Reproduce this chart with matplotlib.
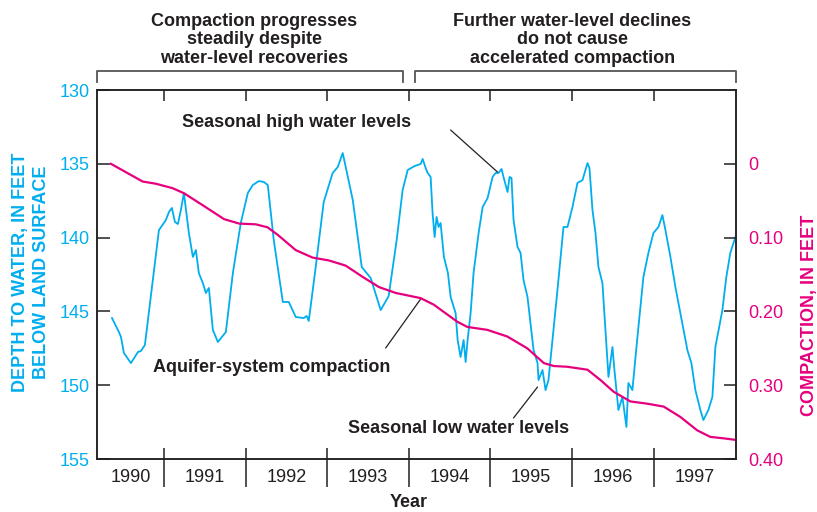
import matplotlib
matplotlib.use("Agg")
import matplotlib.pyplot as plt
from matplotlib.transforms import blended_transform_factory

plt.rcParams['font.family'] = ['Liberation Sans', 'DejaVu Sans']

# ---------------- data ----------------
wl_year = [1990.364, 1990.449, 1990.474, 1990.510, 1990.596, 1990.682, 1990.718, 1990.767,
           1990.939, 1991.024, 1991.061, 1991.098, 1991.135, 1991.171, 1991.208, 1991.245,
           1991.282, 1991.306, 1991.355, 1991.392, 1991.428, 1991.477, 1991.514, 1991.551,
           1991.600, 1991.661, 1991.759, 1991.845, 1991.942, 1992.028, 1992.089, 1992.163,
           1992.224, 1992.273, 1992.346, 1992.457, 1992.530, 1992.616, 1992.714, 1992.750,
           1992.775, 1992.860, 1992.958, 1993.068, 1993.130, 1993.191, 1993.314, 1993.424,
           1993.534, 1993.656, 1993.754, 1993.852, 1993.925, 1993.987, 1994.072, 1994.146,
           1994.170, 1994.207, 1994.231, 1994.268, 1994.292, 1994.317, 1994.341, 1994.366,
           1994.390, 1994.431, 1994.480, 1994.513, 1994.574, 1994.599, 1994.635, 1994.672,
           1994.697, 1994.721, 1994.758, 1994.794, 1994.856, 1994.905, 1994.966, 1995.027,
           1995.064, 1995.100, 1995.137, 1995.161, 1995.210, 1995.235, 1995.259, 1995.284,
           1995.333, 1995.370, 1995.406, 1995.455, 1995.492, 1995.529, 1995.578, 1995.590,
           1995.639, 1995.676, 1995.712, 1995.749, 1995.822, 1995.896, 1995.945, 1996.006,
           1996.067, 1996.129, 1996.190, 1996.214, 1996.251, 1996.288, 1996.324, 1996.373,
           1996.410, 1996.447, 1996.496, 1996.520, 1996.569, 1996.618, 1996.667, 1996.691,
           1996.740, 1996.802, 1996.875, 1996.936, 1996.998, 1997.059, 1997.108, 1997.145,
           1997.206, 1997.267, 1997.328, 1997.414, 1997.463, 1997.512, 1997.573, 1997.610,
           1997.671, 1997.720, 1997.757, 1997.843, 1997.891, 1997.940, 1998.002]
wl_depth = [145.45, 146.40, 146.73, 147.82, 148.50, 147.75, 147.68, 147.28,
            139.49, 138.81, 138.27, 137.99, 138.94, 139.08, 138.13, 136.98,
            138.60, 139.69, 141.31, 140.84, 142.40, 143.08, 143.75, 143.41,
            146.26, 147.07, 146.40, 142.40, 139.01, 136.98, 136.44, 136.17,
            136.23, 136.44, 140.16, 144.36, 144.36, 145.38, 145.45, 145.31,
            145.65, 141.99, 137.59, 135.62, 135.22, 134.27, 137.45, 141.99,
            142.74, 144.91, 143.96, 140.16, 136.78, 135.42, 135.15, 135.01,
            134.67, 135.28, 135.62, 135.89, 138.33, 139.96, 138.60, 139.28,
            139.01, 141.31, 142.40, 144.02, 145.11, 146.94, 148.09, 146.94,
            148.43, 146.94, 145.11, 142.40, 139.69, 137.93, 137.32, 135.89,
            135.62, 135.62, 135.35, 135.89, 136.91, 135.89, 135.96, 138.81,
            140.64, 141.04, 142.87, 144.02, 145.79, 147.62, 148.50, 149.65,
            148.97, 150.33, 149.65, 147.62, 143.55, 139.28, 139.28, 137.93,
            136.30, 136.10, 134.95, 135.28, 138.13, 139.69, 141.99, 143.08,
            146.26, 149.44, 147.41, 148.97, 151.68, 150.80, 152.83, 149.85,
            150.33, 146.73, 142.67, 141.04, 139.69, 139.28, 138.47, 139.49,
            141.31, 143.35, 145.11, 147.62, 148.50, 150.33, 151.68, 152.36,
            151.68, 150.80, 147.41, 144.91, 142.67, 141.04, 139.96]

cp_year = [1990.351, 1990.739, 1990.902, 1991.106, 1991.248, 1991.474, 1991.738, 1991.922,
           1992.126, 1992.269, 1992.392, 1992.616, 1992.820, 1993.023, 1993.228, 1993.432,
           1993.635, 1993.840, 1994.146, 1994.308, 1994.595, 1994.717, 1994.962, 1995.207,
           1995.452, 1995.655, 1995.777, 1995.941, 1996.190, 1996.349, 1996.512, 1996.716,
           1996.920, 1997.124, 1997.328, 1997.532, 1997.694, 1997.858, 1998.000]
compaction = [0.000, 0.024, 0.027, 0.033, 0.040, 0.056, 0.075, 0.081,
              0.082, 0.086, 0.096, 0.117, 0.127, 0.131, 0.138, 0.153,
              0.167, 0.175, 0.182, 0.191, 0.214, 0.221, 0.225, 0.234,
              0.250, 0.270, 0.274, 0.275, 0.279, 0.293, 0.309, 0.322,
              0.325, 0.329, 0.343, 0.361, 0.370, 0.372, 0.374]

year_starts = [1990, 1991, 1992, 1993, 1994, 1995, 1996, 1997]
year_labels = ['1990', '1991', '1992', '1993', '1994', '1995', '1996', '1997']
depth_ticks = [130, 135, 140, 145, 150, 155]
comp_ticks = [0, 0.10, 0.20, 0.30, 0.40]
comp_tick_labels = ['0', '0.10', '0.20', '0.30', '0.40']
phase_split = 1994.0
x_min, x_max = 1990.18, 1998.01

# ---------------- style ----------------
CYAN = '#00aeef'
MAGENTA = '#e6007e'
DARK = '#231f20'

fig = plt.figure(figsize=(8.17, 5.12), dpi=100)
ax = fig.add_axes([0.1187, 0.1035, 0.7822, 0.7207])
ax2 = ax.twinx()

ax.plot(wl_year, wl_depth, color=CYAN, lw=1.3, zorder=3)
ax2.plot(cp_year, compaction, color=MAGENTA, lw=1.6)

ax.set_xlim(x_min, x_max)
ax.set_ylim(155, 130)
ax2.set_ylim(0.40, -0.10)

for a in (ax, ax2):
    for s in a.spines.values():
        s.set_color(DARK)
        s.set_linewidth(1.1)

# x ticks: inner major ticks top & bottom, outer separators bottom (minor)
ax.set_xticks(year_starts[1:])
ax.set_xticks(year_starts[1:], minor=True)
ax.xaxis.remove_overlapping_locs = False
ax.tick_params(axis='x', which='major', direction='in', length=8, width=1.1,
               color=DARK, top=True, bottom=True, labelbottom=False)
ax.tick_params(axis='x', which='minor', direction='out', length=20, width=1.1,
               color=DARK, top=False, bottom=True, labelbottom=False)

# year labels centred on the visible part of each year
label_pos = [(max(y, x_min) + min(y + 1, x_max)) / 2 for y in year_starts]
sec = ax.secondary_xaxis('bottom')
sec.set_xticks(label_pos, year_labels)
sec.tick_params(axis='x', length=0, pad=7, labelsize=13, labelcolor=DARK)
sec.spines['bottom'].set_visible(False)

# y ticks
ax.set_yticks(depth_ticks)
ax.tick_params(axis='y', direction='in', length=9, width=1.1, color=DARK,
               labelcolor=CYAN, labelsize=13, pad=5)
ax2.set_yticks(comp_ticks, comp_tick_labels)
ax2.tick_params(axis='y', direction='in', length=9, width=1.1, color=DARK,
                labelcolor=MAGENTA, labelsize=13, pad=9)

# axis titles
fig.text(0.0375, 0.469, 'DEPTH TO WATER, IN FEET\nBELOW LAND SURFACE', rotation=90,
         ha='center', va='center', color=CYAN, fontsize=13, fontweight='bold',
         linespacing=1.3, multialignment='center')
fig.text(0.991, 0.385, 'COMPACTION, IN FEET', rotation=90, ha='center', va='center',
         color=MAGENTA, fontsize=13, fontweight='bold')
fig.text(0.5006, 0.0176, 'Year', ha='center', va='center', color=DARK,
         fontsize=13, fontweight='bold')

# phase brackets and headers
bt = blended_transform_factory(ax.transData, ax.transAxes)
gap = 0.075
yb, yd = 1.0515, 1.0215
ax.plot([x_min + 0.005, x_min + 0.005, phase_split - gap, phase_split - gap],
        [yd, yb, yb, yd], transform=bt, clip_on=False, color='#555555', lw=1.3)
ax.plot([phase_split + gap, phase_split + gap, x_max - 0.005, x_max - 0.005],
        [yd, yb, yb, yd], transform=bt, clip_on=False, color='#555555', lw=1.3)
ax.text((x_min + phase_split) / 2 + 0.02, 1.136, 'Compaction progresses\nsteadily despite\nwater-level recoveries',
        transform=bt, ha='center', va='center', fontsize=13, fontweight='bold',
        color=DARK, linespacing=1.1)
ax.text((phase_split + x_max) / 2, 1.136, 'Further water-level declines\ndo not cause\naccelerated compaction',
        transform=bt, ha='center', va='center', fontsize=13, fontweight='bold',
        color=DARK, linespacing=1.1)

# annotations
ann_kw = dict(arrowprops=dict(arrowstyle='-', color=DARK, lw=0.9, shrinkA=0, shrinkB=0))
ax.annotate('', xy=(1995.088, 135.56), xytext=(1994.513, 132.71), **ann_kw)
ax.text(1992.628, 132.17, 'Seasonal high water levels', ha='center', va='center',
        fontsize=13, fontweight='bold', color=DARK)
ax.annotate('', xy=(1994.146, 144.16), xytext=(1993.717, 147.48), **ann_kw)
ax.text(1992.322, 148.83, 'Aquifer-system compaction', ha='center', va='center',
        fontsize=13, fontweight='bold', color=DARK)
ax.annotate('', xy=(1995.578, 150.12), xytext=(1995.284, 152.22), **ann_kw)
ax.text(1994.611, 152.90, 'Seasonal low water levels', ha='center', va='center',
        fontsize=13, fontweight='bold', color=DARK)

fig.savefig('out.png', dpi=100)
